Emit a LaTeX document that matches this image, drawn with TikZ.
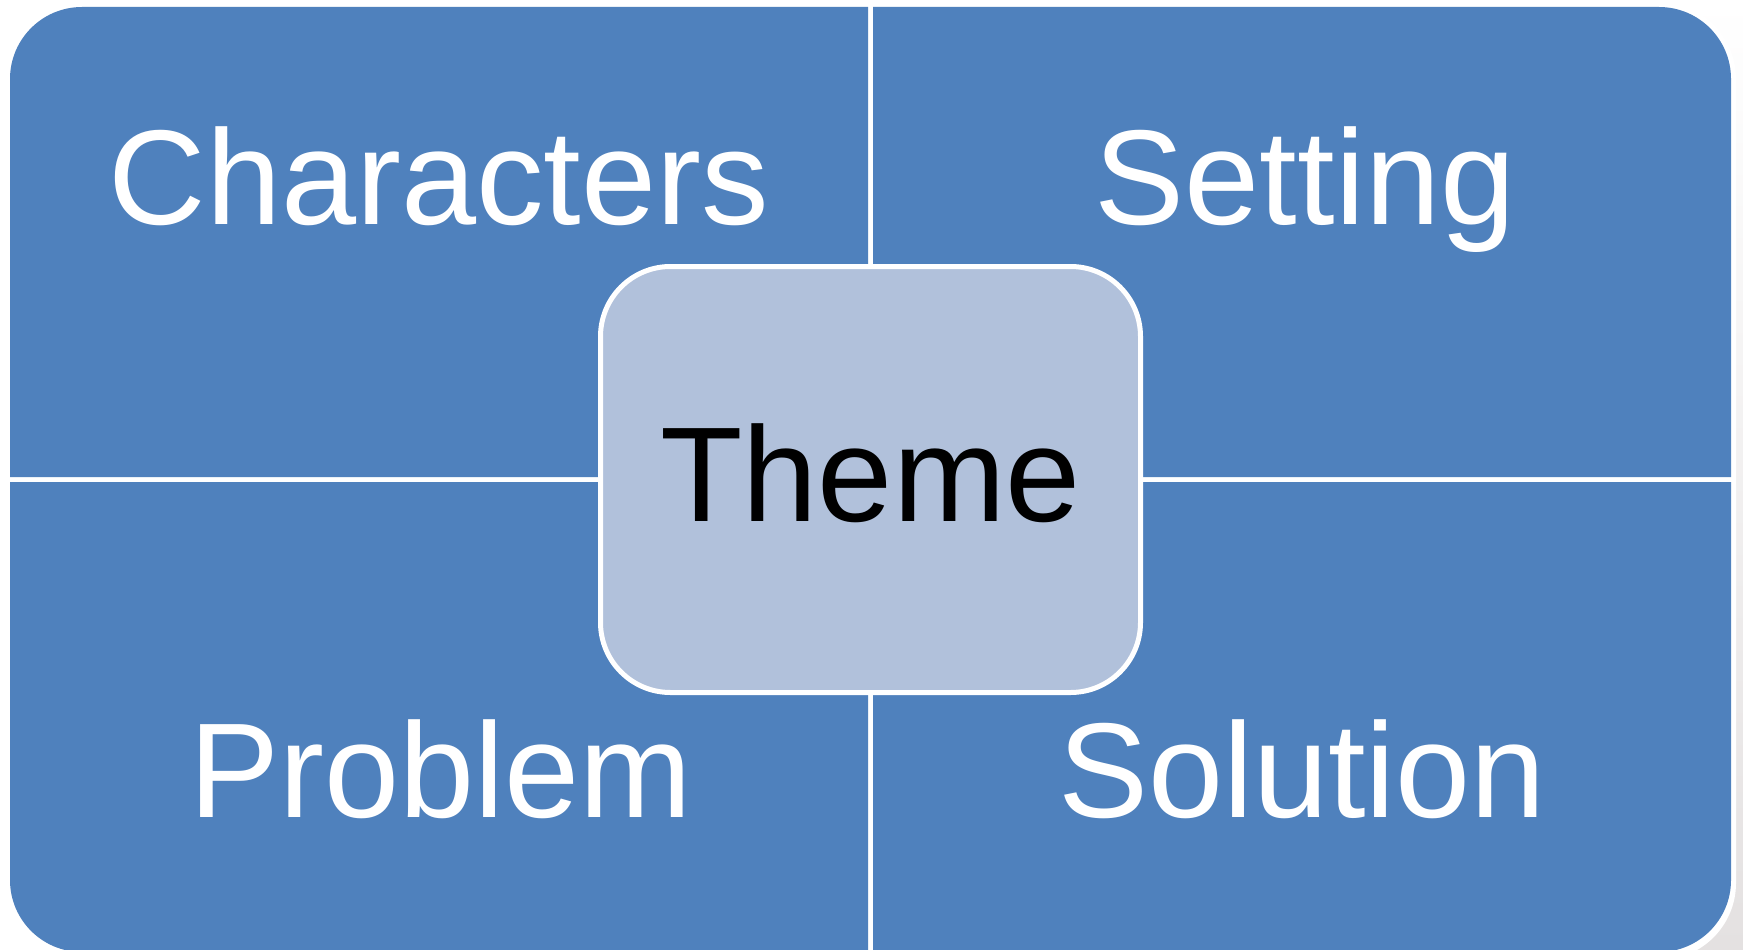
\documentclass[tikz,border=0pt]{standalone}
\usepackage{fontspec}
\setmainfont{Liberation Sans}
\definecolor{quad}{HTML}{4F81BD}
\definecolor{themefill}{HTML}{B1C1DB}
\definecolor{shadowgray}{HTML}{E4E1E1}
\tikzset{
  quadlabel/.style={anchor=base, text=white, font=\fontsize{135}{160}\selectfont, inner sep=0pt},
  themelabel/.style={anchor=base, text=black, font=\fontsize{135}{160}\selectfont, inner sep=0pt},
  quadfill/.style={fill=quad},
}
\begin{document}
\begin{tikzpicture}[x=1pt,y=-1pt]
\useasboundingbox (0,0) rectangle (1743,950);
\clip (0,0) rectangle (1743,950);
% background shadow on the right
\shade[top color=white, bottom color=shadowgray] (1600,0) rectangle (1743,950);
% white outline around whole matrix
\fill[white, rounded corners=77] (5,2) rectangle (1736,960);
% quadrants
\fill[quadfill] (868,477) -- (10,477) -- (10,79) .. controls (10,39.2) and (42.2,7) .. (82,7) -- (868,7) -- cycle;
\fill[quadfill] (873,477) -- (873,7) -- (1659,7) .. controls (1698.8,7) and (1731,39.2) .. (1731,79) -- (1731,477) -- cycle;
\fill[quadfill] (868,482) -- (10,482) -- (10,880) .. controls (10,919.8) and (42.2,952) .. (82,952) -- (868,952) -- cycle;
\fill[quadfill] (873,482) -- (873,952) -- (1659,952) .. controls (1698.8,952) and (1731,919.8) .. (1731,880) -- (1731,482) -- cycle;
% central theme box
\draw[fill=themefill, draw=white, line width=5, rounded corners=70] (600.5,266.5) rectangle (1140.5,692.5);
% labels
\node[quadlabel] (characters) at (439,224) {Characters};
\node[quadlabel] (setting) at (1305,224) {Setting};
\node[quadlabel] (problem) at (441,817) {Problem};
\node[quadlabel] (solution) at (1302,817) {Solution};
\node[themelabel] (theme) at (870.5,521) {Theme};
\end{tikzpicture}
\end{document}
